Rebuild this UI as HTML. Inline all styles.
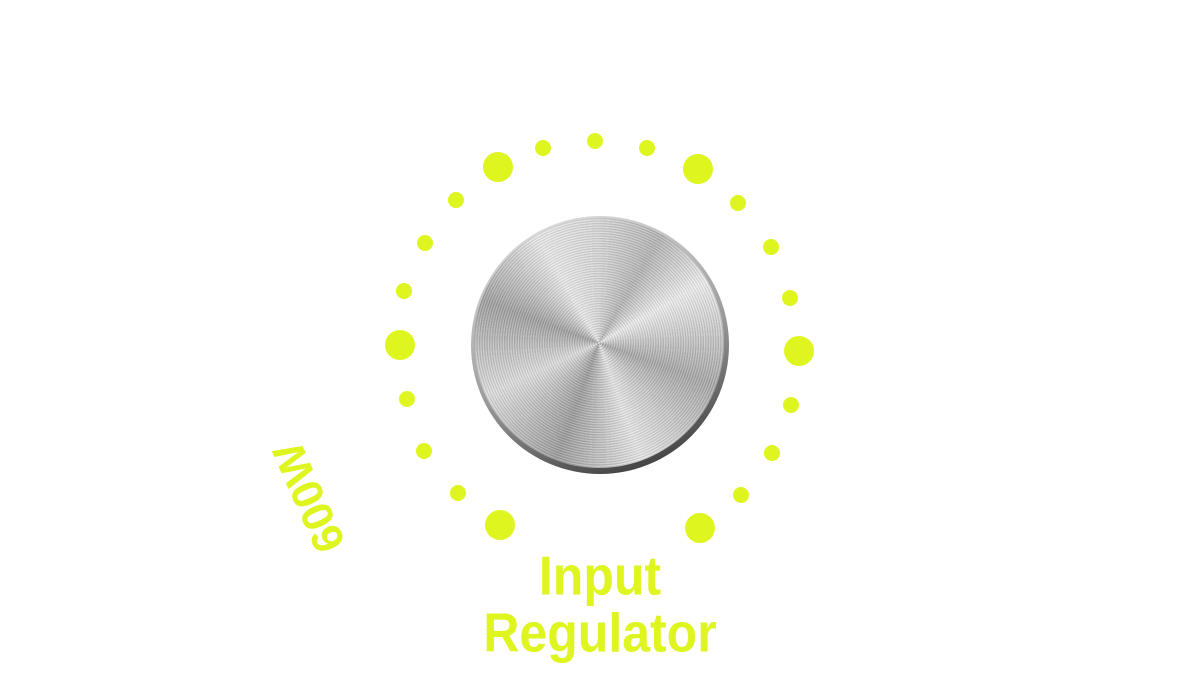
<!DOCTYPE html>
<html><head><style>
html,body{margin:0;padding:0;background:#fff;}
body{width:1200px;height:698px;position:relative;overflow:hidden;font-family:"Liberation Sans",Arial,sans-serif;}
.d{position:absolute;border-radius:50%;background:#def51f;}
.knob{position:absolute;left:471px;top:216px;width:258px;height:258px;border-radius:50%;
background:linear-gradient(160deg,#e8e8e8 0%,#9a9a9a 55%,#2a2a2a 100%);}
.face{position:absolute;left:3px;top:2px;width:250px;height:250px;border-radius:50%;
background:
repeating-radial-gradient(circle at 50% 50%,rgba(255,255,255,0.18) 0 1px,rgba(0,0,0,0.10) 1.5px 2.5px),
conic-gradient(from 0deg,#d8d8d8,#b5b5b5 30deg,#eeeeee 60deg,#a8a8a8 110deg,#e6e6e6 160deg,#9c9c9c 200deg,#dedede 245deg,#a0a0a0 290deg,#eaeaea 330deg,#d8d8d8);}
.t{position:absolute;color:#def51f;font-weight:bold;font-size:50px;line-height:1;white-space:nowrap;}
</style></head><body>
<div class="knob"><div class="face"></div></div>
<div class="d" style="left:483px;top:152px;width:30px;height:30px"></div>
<div class="d" style="left:683px;top:154px;width:30px;height:30px"></div>
<div class="d" style="left:385px;top:330px;width:30px;height:30px"></div>
<div class="d" style="left:784px;top:336px;width:30px;height:30px"></div>
<div class="d" style="left:485px;top:510px;width:30px;height:30px"></div>
<div class="d" style="left:685px;top:513px;width:30px;height:30px"></div>
<div class="d" style="left:535px;top:140px;width:16px;height:16px"></div>
<div class="d" style="left:587px;top:133px;width:16px;height:16px"></div>
<div class="d" style="left:639px;top:140px;width:16px;height:16px"></div>
<div class="d" style="left:448px;top:192px;width:16px;height:16px"></div>
<div class="d" style="left:730px;top:195px;width:16px;height:16px"></div>
<div class="d" style="left:417px;top:235px;width:16px;height:16px"></div>
<div class="d" style="left:763px;top:239px;width:16px;height:16px"></div>
<div class="d" style="left:396px;top:283px;width:16px;height:16px"></div>
<div class="d" style="left:782px;top:290px;width:16px;height:16px"></div>
<div class="d" style="left:399px;top:391px;width:16px;height:16px"></div>
<div class="d" style="left:783px;top:397px;width:16px;height:16px"></div>
<div class="d" style="left:416px;top:443px;width:16px;height:16px"></div>
<div class="d" style="left:764px;top:445px;width:16px;height:16px"></div>
<div class="d" style="left:450px;top:485px;width:16px;height:16px"></div>
<div class="d" style="left:733px;top:487px;width:16px;height:16px"></div>
<div class="t" style="left:0;width:1200px;text-align:center;top:551px;transform:scaleY(1.1)">Input</div>
<div class="t" style="left:0;width:1200px;text-align:center;top:608px;transform:scaleY(1.1)">Regulator</div>
<div class="t" style="left:310px;top:497px;font-size:44px;transform:translate(-50%,-50%) rotate(246deg);">600W</div>
</body></html>
